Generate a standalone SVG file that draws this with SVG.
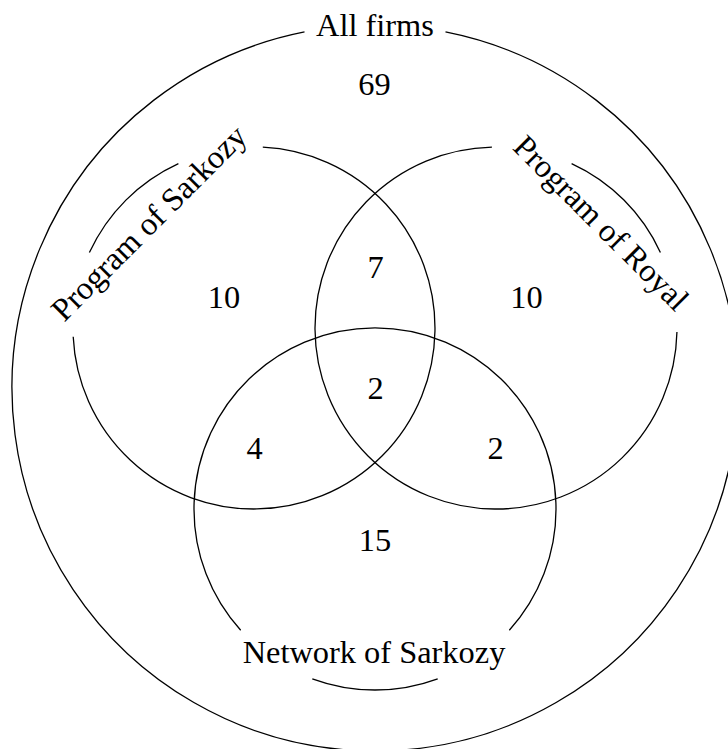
<svg xmlns="http://www.w3.org/2000/svg" width="728" height="749" viewBox="0 0 728 749">
  <style>
    .set { fill: none; stroke: #000; stroke-width: 1.3; }
    .lbl { font-family: "Liberation Serif", "DejaVu Serif", serif; font-size: 32.4px; fill: #000; text-anchor: middle; }
  </style>
  <rect width="728" height="749" fill="#fff"/>
  <g id="all-firms">
    <path class="set" d="M 445.5 31.9 A 363 363 0 1 1 304.5 31.9"/>
    <text class="lbl" x="375" y="35.5">All firms</text>
  </g>
  <g id="program-sarkozy">
    <path class="set" d="M 262.8 147.2 A 181 181 0 1 1 73.2 336.8"/>
    <path class="set" d="M 89.4 252.6 A 181 181 0 0 1 178.4 163.6"/>
    <text class="lbl" transform="translate(150.8 224.8) rotate(-45)" x="0" y="8">Program of Sarkozy</text>
  </g>
  <g id="program-royal">
    <path class="set" d="M 676.95 332.1 A 181 181 0 1 1 491.9 147.05"/>
    <path class="set" d="M 571.6 163.6 A 181 181 0 0 1 660.4 252.4"/>
    <text class="lbl" transform="translate(599.2 224.8) rotate(45)" x="0" y="8">Program of Royal</text>
  </g>
  <g id="network-sarkozy">
    <path class="set" d="M 240.7 630.3 A 181 181 0 1 1 509.3 630.3"/>
    <path class="set" d="M 437.7 678.8 A 181 181 0 0 1 312.3 678.8"/>
    <text class="lbl" x="374" y="663">Network of Sarkozy</text>
  </g>
  <g id="counts">
    <text class="lbl" x="374.5" y="95">69</text>
    <text class="lbl" x="224" y="308">10</text>
    <text class="lbl" x="526.5" y="308">10</text>
    <text class="lbl" x="375.5" y="278">7</text>
    <text class="lbl" x="375.5" y="399">2</text>
    <text class="lbl" x="254.5" y="459">4</text>
    <text class="lbl" x="495.5" y="459">2</text>
    <text class="lbl" x="375" y="551">15</text>
  </g>
</svg>
